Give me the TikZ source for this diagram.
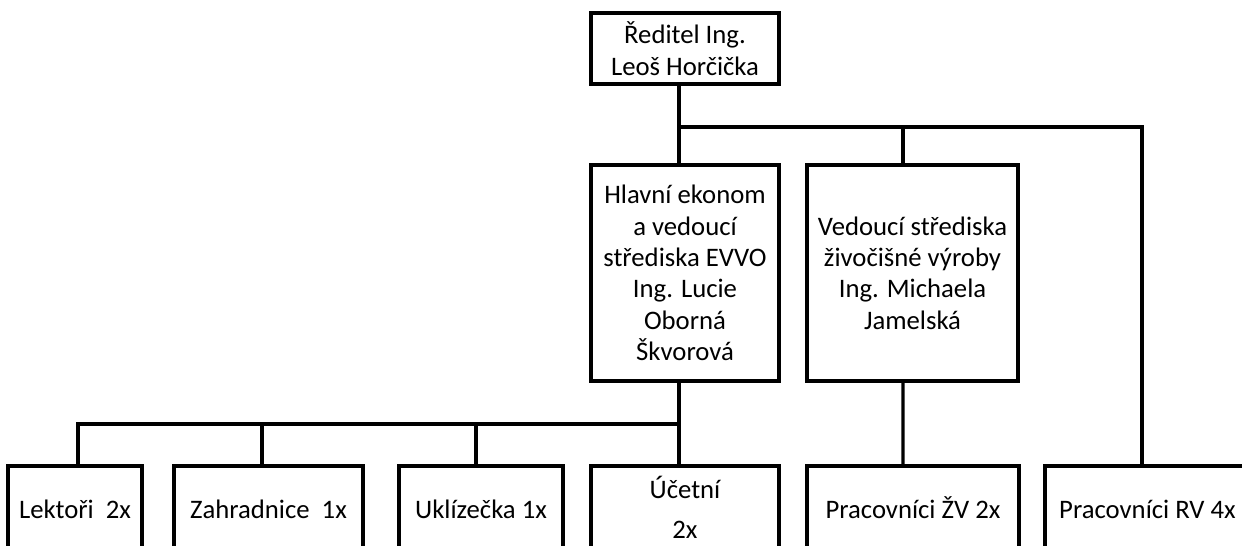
\documentclass[tikz,border=0pt]{standalone}
\usepackage{fontspec}
\setmainfont{Carlito}
\usepackage{tikz}
\usetikzlibrary{positioning,calc}
\tikzset{
  orgbox/.style={rectangle, draw=black, line width=2.3pt, fill=white,
                 minimum height=2.2cm, inner sep=2pt, outer sep=0pt,
                 align=center, font=\fontsize{19}{22.3}\selectfont},
  lowbox/.style={orgbox, text height=0.55cm, text depth=0.15cm},
  link/.style={draw=black, line width=2.3pt}
}

\begin{document}
\begin{tikzpicture}[node distance=0.7cm]

\clip (0,0) rectangle (31.05,-13.65);

% --- Reditel ---
\node[orgbox, minimum width=4.7cm, minimum height=1.775cm] (reditel)
  at (17.125,-1.2125) {Ředitel Ing.\\Leoš Horčička};

% --- Strediska ---
\node[orgbox, below=2.025cm of reditel, minimum width=4.7cm, minimum height=5.4cm]
  (hlavni) {Hlavní ekonom\\a vedoucí\\střediska EVVO\\Ing. Lucie\\Oborná\\Škvorová};
\node[orgbox, right=of hlavni, minimum width=5.275cm, minimum height=5.4cm]
  (vedouci) {Vedoucí střediska\\živočišné výroby\\Ing. Michaela\\Jamelská};

% --- Pracovnici ---
\node[lowbox, below=2.125cm of hlavni, minimum width=4.7cm, text height=1.55cm]
  (ucetni) {Účetní\\[6pt]2x};
\node[lowbox, left=of ucetni, minimum width=4.1cm] (uklizecka) {Uklízečka 1x};
\node[lowbox, left=0.9cm of uklizecka, minimum width=4.725cm] (zahradnice) {Zahradnice\ \ 1x};
\node[lowbox, left=0.8cm of zahradnice, minimum width=3.35cm] (lektori) {Lektoři\ \ 2x};
\node[lowbox, right=of ucetni, minimum width=5.3cm] (zv) {Pracovníci ŽV 2x};
\node[lowbox, right=0.65cm of zv, minimum width=5.125cm] (rv) {Pracovníci RV 4x};

% --- Spoje ---
\draw[link] ([xshift=-0.15cm]reditel.south) -- ([xshift=-0.15cm]hlavni.north);
\draw[link] ([xshift=-0.15cm]reditel.south) ++(0,-1.075) -| ([xshift=-0.2375cm]vedouci.north);
\draw[link] ([xshift=-0.15cm]reditel.south) ++(0,-1.075) -| ([xshift=-0.1375cm]rv.north);

\draw[link] ([xshift=-0.15cm]hlavni.south) -- ([xshift=-0.15cm]ucetni.north);
\draw[link] ([xshift=-0.15cm]hlavni.south) ++(0,-1.075) -| ([xshift=-0.125cm]uklizecka.north);
\draw[link] ([xshift=-0.15cm]hlavni.south) ++(0,-1.075) -| ([xshift=-0.1625cm]zahradnice.north);
\draw[link] ([xshift=-0.15cm]hlavni.south) ++(0,-1.075) -| ([xshift=0.075cm]lektori.north);

\draw[link] ([xshift=-0.2375cm]vedouci.south) -- ([xshift=-0.25cm]zv.north);

\end{tikzpicture}
\end{document}
